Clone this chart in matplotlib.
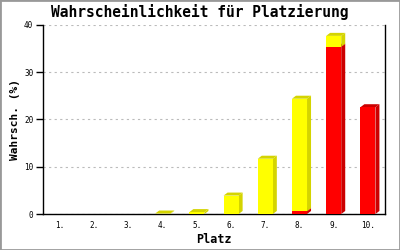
import matplotlib
matplotlib.use("Agg")
import matplotlib.pyplot as plt
from matplotlib.patches import Polygon, Rectangle

places = ['1.', '2.', '3.', '4.', '5.', '6.', '7.', '8.', '9.', '10.']
red_vals = [0, 0, 0, 0, 0, 0, 0, 0.6, 35.4, 22.6]
yellow_vals = [0, 0, 0, 0.1, 0.4, 3.9, 11.7, 23.8, 2.3, 0]

fig = plt.figure(figsize=(4, 2.5), dpi=100)
ax = fig.add_axes([0.1075, 0.144, 0.855, 0.756])
ax.set_xlim(0.5, 10.5)
ax.set_ylim(0, 40)

w = 0.44
dx = 4 / 34.2   # depth offset in data units (~4 px)
dy = 3 / 4.72   # (~3 px)

def bar3d(x, bottom, h, face, dark):
    if h <= 0:
        return
    l, r = x - w / 2, x + w / 2
    t = bottom + h
    side = Polygon([(r, bottom), (r + dx, bottom + dy), (r + dx, t + dy), (r, t)],
                   closed=True, facecolor=dark, edgecolor='none', zorder=3)
    top = Polygon([(l, t), (l + dx, t + dy), (r + dx, t + dy), (r, t)],
                  closed=True, facecolor=dark, edgecolor='none', zorder=3)
    front = Rectangle((l, bottom), w, h, facecolor=face, edgecolor='none', zorder=4)
    ax.add_patch(side)
    ax.add_patch(top)
    ax.add_patch(front)

for i in range(len(places)):
    x = i + 1
    bar3d(x, 0, red_vals[i], '#ff0000', '#cc0000')
    bar3d(x, red_vals[i], yellow_vals[i], '#ffff00', '#d4d400')

ax.set_yticks([0, 10, 20, 30, 40])
ax.set_xticks(range(1, len(places) + 1))
ax.set_xticklabels(places)
for lab in ax.get_xticklabels() + ax.get_yticklabels():
    lab.set_family('DejaVu Sans Mono')
    lab.set_fontsize(5.5)
ax.tick_params(axis='x', length=0, pad=5)
ax.tick_params(axis='y', length=5, width=1, pad=2, direction='out')

ax.yaxis.grid(True, color='#bbbbbb', linestyle=(0, (2, 3)), linewidth=0.8)
ax.set_axisbelow(True)
ax.spines['top'].set_visible(False)
for s in ['left', 'right', 'bottom']:
    ax.spines[s].set_color('black')
    ax.spines[s].set_linewidth(1)

fig.text(0.5, 0.95, 'Wahrscheinlichkeit für Platzierung', ha='center', va='center',
         family='DejaVu Sans Mono', fontweight='bold', fontsize=10.5)
ax.set_xlabel('Platz', family='DejaVu Sans Mono', fontweight='bold', fontsize=8.5, labelpad=2)
ax.set_ylabel('Wahrsch. (%)', family='DejaVu Sans Mono', fontweight='bold', fontsize=8, labelpad=3)

fig.patches.append(Rectangle((0, 0), 1, 1, transform=fig.transFigure, fill=False,
                             edgecolor='#999999', linewidth=2))

fig.savefig('out.png', dpi=100)
